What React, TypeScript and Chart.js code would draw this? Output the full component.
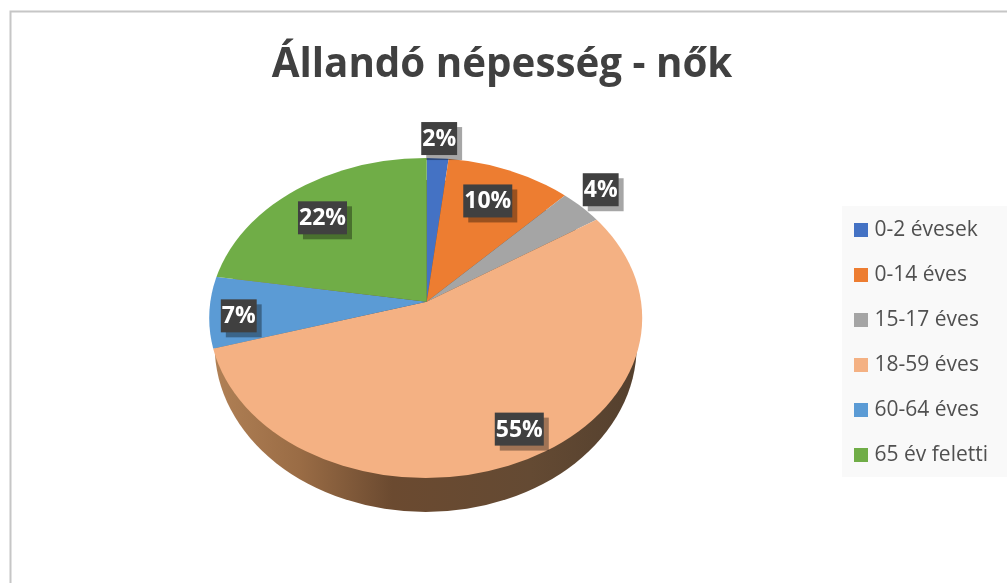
import React, { useEffect, useRef } from "react";
import { Chart, registerables } from "chart.js";

Chart.register(...registerables);

const categories = ["0-2 évesek", "0-14 éves", "15-17 éves", "18-59 éves", "60-64 éves", "65 év feletti"];
const values = [1.8, 10.4, 3.6, 54.6, 7.11, 22.49];
const colors = ["#4472c4", "#ed7d31", "#a5a5a5", "#f4b183", "#5b9bd5", "#70ad47"];
const labelRadial = [1.02, 0.695, 1.067, 0.897, 0.87, 0.713];
const labelNudgeX = [0, -3, -4, 11, 0, -4];
const labelNudgeY = [0, 0, -3, -3, 5, 3];
const titleText = "Állandó népesség - nők";

const APEX = { x: 426.7, y: 301.7 };
const TILT = 0.74;
const FACE = { x: 425.7, y: 318, rx: 216.5, ry: 160 };
const RIM = { x: 425.7, y: 346, rx: 211, ry: 166 };
const FONT = '"Open Sans", sans-serif';

function swatch(color: string) {
  const c = document.createElement("canvas");
  c.width = 14;
  c.height = 14;
  const g = c.getContext("2d")!;
  g.fillStyle = color;
  g.fillRect(0, 0, 14, 14);
  return c;
}

const pieStage = {
  id: "pieStage",
  beforeDraw(chart: any) {
    const ctx = chart.ctx;
    ctx.save();
    ctx.fillStyle = "#ffffff";
    ctx.fillRect(0, 0, chart.width, chart.height);
    ctx.strokeStyle = "#c6c6c6";
    ctx.lineWidth = 2;
    ctx.beginPath();
    ctx.moveTo(10.5, chart.height);
    ctx.lineTo(10.5, 11.5);
    ctx.lineTo(chart.width, 11.5);
    ctx.stroke();
    ctx.fillStyle = "#f9f9f9";
    ctx.fillRect(842, 206, chart.width - 842, 271);
    ctx.restore();
  },
  beforeDatasetsDraw(chart: any) {
    const ctx = chart.ctx;
    const grad = ctx.createLinearGradient(RIM.x - RIM.rx, 0, RIM.x + RIM.rx, 0);
    grad.addColorStop(0, "#b08055");
    grad.addColorStop(0.2, "#9a6c45");
    grad.addColorStop(0.42, "#6b4a30");
    grad.addColorStop(0.75, "#644a33");
    grad.addColorStop(1, "#54402e");
    ctx.save();
    ctx.fillStyle = grad;
    ctx.beginPath();
    ctx.ellipse(RIM.x, RIM.y, RIM.rx, RIM.ry, 0, 0, Math.PI * 2);
    ctx.fill();
    ctx.restore();

    const arc = chart.getDatasetMeta(0).data[0];
    ctx.save();
    ctx.beginPath();
    ctx.ellipse(FACE.x, FACE.y, FACE.rx, FACE.ry, 0, 0, Math.PI * 2);
    ctx.clip();
    ctx.translate(APEX.x, APEX.y);
    ctx.scale(1, TILT);
    ctx.translate(-arc.x, -arc.y);
  },
  afterDatasetsDraw(chart: any) {
    const ctx = chart.ctx;
    ctx.restore();
    const meta = chart.getDatasetMeta(0);
    const total = values.reduce((a, b) => a + b, 0);
    ctx.save();
    ctx.font = `bold 23px ${FONT}`;
    ctx.textAlign = "center";
    ctx.textBaseline = "middle";
    meta.data.forEach((el: any, i: number) => {
      const mid = (el.startAngle + el.endAngle) / 2;
      const r = FACE.rx * labelRadial[i];
      const cx = APEX.x + Math.cos(mid) * r + labelNudgeX[i];
      const cy = APEX.y + Math.sin(mid) * r * TILT + labelNudgeY[i];
      const text = `${Math.round((values[i] / total) * 100)}%`;
      const w = ctx.measureText(text).width + 2;
      const h = 33;
      ctx.fillStyle = "rgba(0,0,0,0.35)";
      ctx.fillRect(cx - w / 2 + 5, cy - h / 2 + 5, w, h);
      ctx.fillStyle = "#404040";
      ctx.fillRect(cx - w / 2, cy - h / 2, w, h);
      ctx.fillStyle = "#ffffff";
      ctx.fillText(text, cx, cy + 1);
    });
    ctx.restore();
  },
};

export default function App() {
  const ref = useRef<HTMLCanvasElement>(null);
  useEffect(() => {
    document.body.style.margin = "0";
    const chart = new Chart(ref.current!, {
      type: "pie",
      data: {
        labels: categories,
        datasets: [
          {
            data: values,
            backgroundColor: colors,
            borderWidth: 0,
            clip: false,
            radius: 270,
          } as any,
        ],
      },
      options: {
        responsive: false,
        animation: false,
        layout: { padding: { left: 6, right: 9, bottom: 0 } },
        plugins: {
          tooltip: { enabled: false },
          title: {
            display: true,
            text: titleText,
            color: "#404040",
            font: { family: FONT, size: 40.3, weight: "bold" },
            padding: { top: 41, bottom: 12 },
          },
          legend: {
            position: "right",
            fullSize: false,
            labels: {
              color: "#505050",
              font: { family: FONT, size: 21 },
              padding: 24,
              usePointStyle: true,
              pointStyleWidth: 6,
              boxHeight: 14,
              generateLabels: () =>
                categories.map((text, i) => ({
                  text,
                  fontColor: "#505050",
                  fillStyle: colors[i],
                  strokeStyle: colors[i],
                  lineWidth: 0,
                  pointStyle: swatch(colors[i]),
                  index: i,
                })),
            },
          },
        },
      } as any,
      plugins: [pieStage],
    });
    return () => chart.destroy();
  }, []);
  return (
    <div style={{ position: "absolute", left: 0, top: 0, width: 1007, height: 583 }}>
      <canvas ref={ref} width={1007} height={583} style={{ display: "block" }} />
    </div>
  );
}
